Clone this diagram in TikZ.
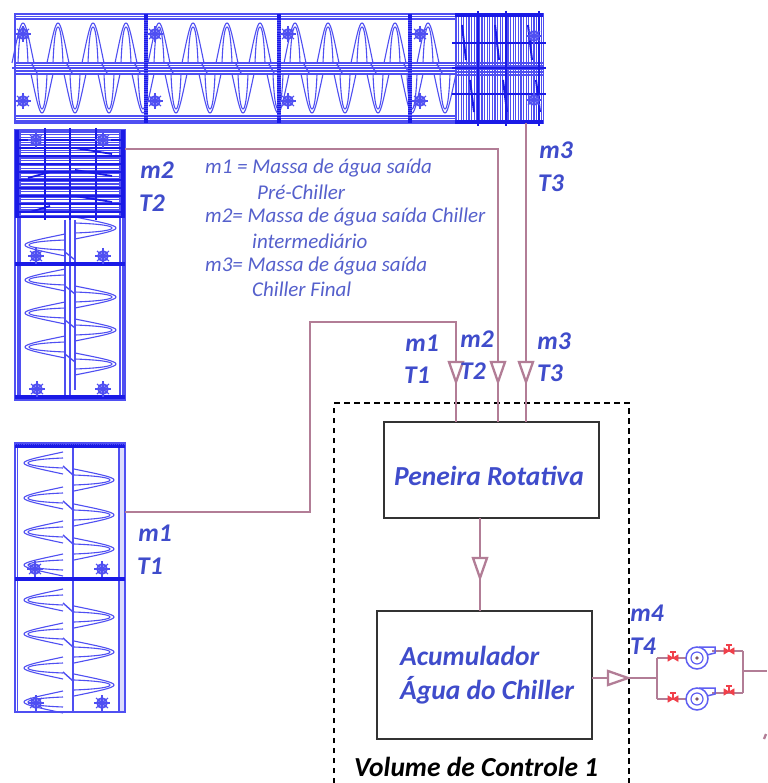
\documentclass[tikz,border=0pt]{standalone}
\usepackage{fontspec}
\setmainfont{Carlito}
\definecolor{scr}{HTML}{4F4FF2}
\definecolor{bar}{HTML}{1A1AE6}
\definecolor{pipec}{HTML}{B27D96}
\definecolor{lab}{HTML}{3F4CCB}
\definecolor{leg}{HTML}{5560CC}
\definecolor{valv}{HTML}{F0404A}
\definecolor{pump}{HTML}{5F5FF2}
\tikzset{
  scr/.style={draw=scr,line width=1.1pt},
  heavy/.style={draw=bar,line width=3.2pt},
  pipe/.style={draw=pipec,line width=2.3pt},
  box/.style={draw=black!80,line width=1.6pt,minimum width=0pt,inner sep=0pt,outer sep=0pt,anchor=north west},
  val/.style={font=\bfseries\itshape\fontsize{25.5}{28}\selectfont,text=lab,inner sep=0pt},
  leg/.style={font=\itshape\fontsize{21}{24}\selectfont,text=leg,inner sep=0pt,anchor=west},
  big/.style={font=\bfseries\itshape\fontsize{27.5}{30}\selectfont,text=lab,inner sep=0pt},
  lobe/.pic={
    \draw[scr] (-11,#1) .. controls (-6,16) and (-3,0) .. (0,0) .. controls (3,0) and (6,16) .. (11,#1);
    \draw[scr] (-5,#1) .. controls (-4,14) and (-2,4) .. (0,4) .. controls (2,4) and (4,14) .. (5,#1);
  },
  gear/.pic={
    \draw[scr,line width=1.6pt,fill=scr!60] (0,0) circle (5);
    \draw[scr,line width=1.5pt] (-8,0) -- (8,0) (0,-8) -- (0,8);
    \draw[scr,line width=1.1pt] (-6,-5) -- (6,5) (-6,5) -- (6,-5);
  },
  valve/.pic={
    \draw[draw=valv,fill=valv,line width=.8pt] (-5,-3) -- (5,3) -- (5,-3) -- (-5,3) -- cycle;
    \draw[draw=valv,line width=1.5pt] (0,0) -- (0,-6) (-3,-6) -- (3,-6);
  },
  pumpic/.pic={
    \draw[draw=pump,line width=1.5pt,fill=white] (0,0) circle (11);
    \draw[draw=pump,line width=1.2pt] (0,0) circle (6);
    \fill[pipec!70!black] (0,0) circle (1.8);
    \draw[draw=pump,line width=1.5pt] (2,-11) -- (18,-11) -- (18,-5) -- (10,-3);
  },
  chevd/.pic={\draw[pipe,fill=white] (-7,-10) -- (7,-10) -- (0,10) -- cycle;},
  chevr/.pic={\draw[pipe,fill=white] (-10,-7) -- (-10,7) -- (10,0) -- cycle;},
}
\begin{document}
\begin{tikzpicture}[x=1pt,y=-1pt]
\useasboundingbox (0,0) rectangle (767,783);
\fill[white] (0,0) rectangle (767,783);

% ---- top screw conveyor
\draw[scr] (15,14) rectangle (543,123);
\foreach \y in {16.5,19,116,118.5,121,63,65.5,68,71,74} \draw[scr] (15,\y) -- (543,\y);
\draw[scr] (12,68) -- (15,68);
\foreach \x in {23,58,93,126,159,193,227,260,295,328,362,395,428}
  \path (\x,23) pic {lobe=40};
\foreach \x in {42,75,109,143,176,210,243,278,312,345,378,412,445}
  \path (\x,113) pic[rotate=180] {lobe=39};
\foreach \x in {23,58,93,126,159,193,227,260,295,328,362,395,428}
  \draw[scr,line width=1.4pt] (\x+9,64) -- (\x+14,73);
\foreach \x in {146,279,410}{
  \draw[heavy] (\x,14) -- (\x,123);
  \draw[scr,densely dotted,line width=4pt] (\x,20) -- (\x,118);
}
\foreach \x in {155,288,420,23}{
  \path (\x,34) pic {gear};
  \path (\x,101) pic {gear};
}
% hatched end
\fill[white] (455,14) rectangle (543,123);
\foreach \x in {456,458.6,...,543} \draw[scr,line width=1.3pt] (\x,14) -- (\x,123);
\foreach \y in {63,66,...,75} \draw[scr,line width=1.2pt] (455,\y) -- (543,\y);
\draw[heavy,line width=4pt] (455,15) -- (543,15) (455,122) -- (543,122);
\foreach \y in {43,68,94} \draw[bar,line width=1.6pt] (452,\y) -- (546,\y);
\foreach \x in {478,506,539} \draw[bar,line width=2.4pt] (\x,11) -- (\x,126);
\foreach \x in {462,495,528} \draw[bar,line width=2pt] (\x,25) -- (\x+4,60) (\x+8,80) -- (\x+12,112);
\path (534,36) pic {gear} (534,100) pic {gear};

% ---- middle (T2) conveyor
\draw[scr] (15,130) rectangle (125,400);
\draw[scr] (18,130) -- (18,400) (20,130) -- (20,400) (120,130) -- (120,400) (123,130) -- (123,400);
\draw[scr] (65,220) -- (65,397) (70,220) -- (70,397) (75,220) -- (75,390);
\foreach \y in {228,297,330,364} \path (116,\y) pic[rotate=-90] {lobe=41};
\foreach \y in {245,280,313,347} \path (25,\y) pic[rotate=90] {lobe=40};
\foreach \y in {252,286,320,354} \draw[scr,line width=1.4pt] (65,\y) -- (75,\y+8);
\draw[heavy] (15,264) -- (125,264);
\draw[heavy] (15,397) -- (125,397);
\foreach \p in {(36,256),(103,256),(37,389),(103,389)} \path \p pic {gear};
\foreach \y in {132,134.6,...,220} \draw[scr,line width=1.3pt] (15,\y) -- (125,\y);
\foreach \y in {140,148,...,212} \draw[bar,line width=1.4pt] (15,\y) -- (125,\y);
\foreach \x in {17,123} \draw[heavy] (\x,130) -- (\x,218);
\foreach \x in {45,70,96} \draw[bar,line width=2.2pt] (\x,128) -- (\x,220);
\foreach \p in {(36,140),(103,140)} \path \p pic {gear};
\foreach \a/\b in {28/178,30/212} \draw[bar,line width=1.8pt] (\a,\b) -- (50,\b-6);
\foreach \b in {150,172,198} \draw[bar,line width=1.8pt] (75,\b-2) -- (112,\b+4);
\draw[heavy,line width=2.5pt] (15,217) -- (125,217);

% ---- bottom (T1) conveyor
\draw[scr,fill=scr!20] (119,443) rectangle (125,712);
\draw[scr] (15,443) rectangle (125,712);
\draw[scr] (17.5,443) -- (17.5,712);
\draw[scr] (73,443) -- (73,712);
\foreach \y in {480,515,549,617,652,685} \path (114,\y) pic[rotate=-90] {lobe=40};
\foreach \y in {463,498,532,565,600,634,668,702} \path (24,\y) pic[rotate=90] {lobe=39};
\foreach \y in {466,501,535,603,638,672} \draw[scr,line width=1.4pt] (63,\y) -- (73,\y+9);
\draw[heavy] (15,446) -- (125,446);
\draw[heavy] (15,579) -- (125,579);
\draw[scr,densely dotted,line width=3pt] (15,443) -- (125,443);
\foreach \p in {(35,569),(102,569),(36,703),(102,703)} \path \p pic {gear};

% ---- boxes and control volume
\draw[black,line width=1.2pt,dash pattern=on 5.5pt off 4.5pt] (334,783) -- (334,403) -- (629,403) -- (629,783);
\node[box,minimum width=215pt,minimum height=96pt] (pen) at (384,422) {};
\node[box,minimum width=215pt,minimum height=128pt] (acu) at (377,611) {};
\node[big] (pentxt) at (489,476) {Peneira Rotativa};
\node[big,anchor=west] (acu1) at (400,656) {Acumulador};
\node[big,anchor=west] (acu2) at (400,690) {Água do Chiller};
\node[big,text=black,anchor=west] (vc) at (354,767) {Volume de Controle 1};

% ---- pipes
\coordinate (t2out) at (125,149);
\coordinate (t3out) at (526,123);
\coordinate (t1out) at (125,512);
\coordinate (m1in) at (456,422);
\coordinate (m2in) at (498,422);
\coordinate (m3in) at (526,422);
\coordinate (penout) at (480,518);
\coordinate (acuin) at (480,611);
\coordinate (acuout) at (592,678);
\coordinate (jl) at (657,678);
\coordinate (jlt) at (657,658);
\coordinate (jlb) at (657,699);
\coordinate (jrt) at (743,651);
\coordinate (jrb) at (743,693);
\coordinate (jr) at (743,671);
\coordinate (exit) at (767,671);
\coordinate (bend1) at (310,512);
\coordinate (bend2) at (310,322);
\coordinate (bend3) at (456,322);
\coordinate (bend4) at (498,149);
\draw[pipe] (t2out) -- (bend4) -- (m2in);
\draw[pipe] (t3out) -- (m3in);
\draw[pipe] (t1out) -- (bend1) -- (bend2) -- (bend3) -- (m1in);
\draw[pipe] (penout) -- (acuin);
\draw[pipe] (acuout) -- (jl);
\draw[pipe] (jlt) -- (jlb);
\draw[pipe] (jrt) -- (jrb);
\draw[pipe] (jr) -- (exit);
\draw[pipe] (jlt) -- (697,658);
\draw[pipe] (jlb) -- (697,699);
\draw[pipe] (712,651) -- (jrt);
\draw[pipe] (712,693) -- (jrb);
\path (456,372) pic {chevd} (498,372) pic {chevd} (526,372) pic {chevd} (480,568) pic {chevd} (618,678) pic {chevr};
\path (697,658) pic {pumpic} (697,699) pic {pumpic};
\path (673,658) pic {valve} (673,699) pic {valve} (729,651) pic {valve} (729,692) pic {valve};
\draw[pipe] (766,734) -- (764,739);

% ---- labels
\node[val] (a1) at (157,170) {m2};
\node[val] (a2) at (152,203) {T2};
\node[val] (b1) at (556,150) {m3};
\node[val] (b2) at (551,183) {T3};
\node[val] (c1) at (155,533) {m1};
\node[val] (c2) at (150,566) {T1};
\node[val] (d1) at (422,343) {m1};
\node[val] (d2) at (417,375) {T1};
\node[val] (e1) at (477,339) {m2};
\node[val] (e2) at (473,371) {T2};
\node[val] (f1) at (554,341) {m3};
\node[val] (f2) at (550,373) {T3};
\node[val] (g1) at (647,613) {m4};
\node[val] (g2) at (643,646) {T4};
\node[leg] (l1) at (205,168) {m1 = Massa de água saída};
\node[leg] (l2) at (257,192) {Pré-Chiller};
\node[leg] (l3) at (205,217) {m2= Massa de água saída Chiller};
\node[leg] (l4) at (252,241) {intermediário};
\node[leg] (l5) at (205,266) {m3= Massa de água saída};
\node[leg] (l6) at (252,289) {Chiller Final};
\end{tikzpicture}
\end{document}
